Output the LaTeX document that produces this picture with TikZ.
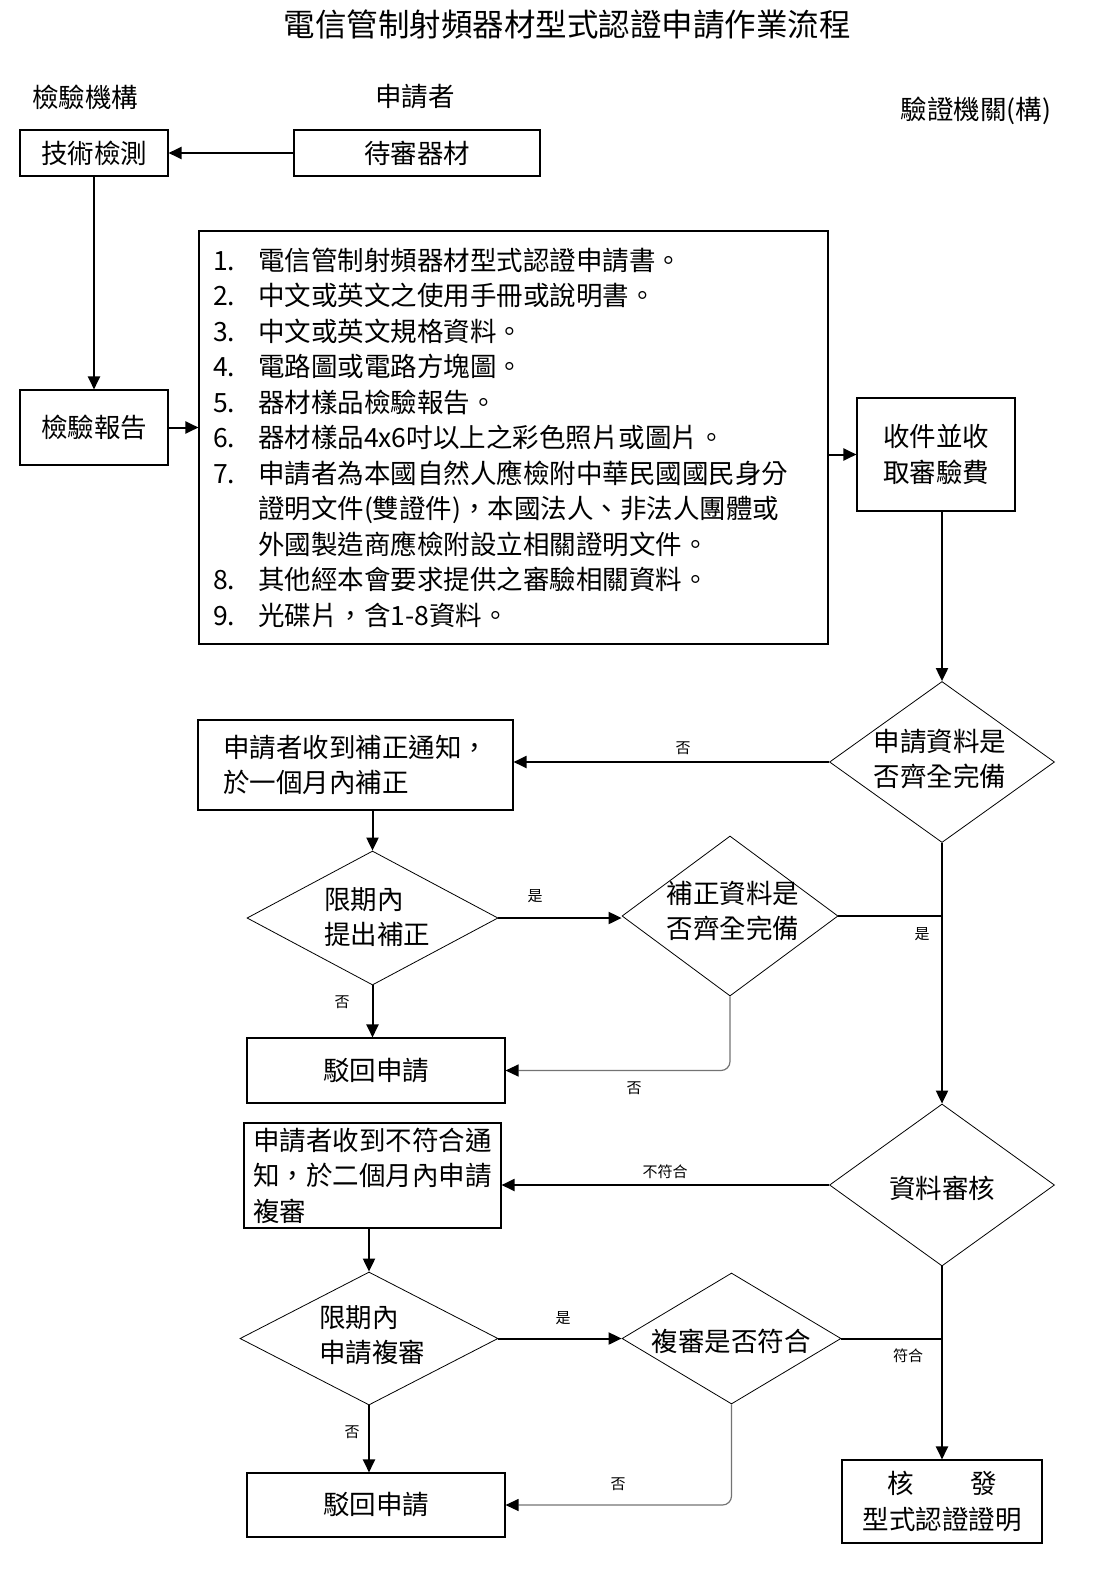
\documentclass[tikz,border=0pt]{standalone}
\usepackage{fontspec}
\setmainfont{Noto Sans CJK TC}
\usetikzlibrary{shapes.geometric,arrows.meta}

\begin{document}
\begin{tikzpicture}[x=1pt,y=-1pt,
  box/.style={draw,line width=1.1pt,inner sep=0pt,align=center,font=\fontsize{26.5pt}{35.5pt}\selectfont},
  decision/.style={diamond,draw,line width=0.8pt,inner sep=0pt},
  txt/.style={inner sep=0pt,align=left,font=\fontsize{26.5pt}{35.5pt}\selectfont},
  lbl/.style={inner sep=0pt,font=\fontsize{15pt}{15pt}\selectfont},
  flow/.style={line width=2pt,-{Triangle[length=13pt,width=12pt]}},
  merge/.style={line width=2pt},
  back/.style={line width=1.2pt,draw=black!55,rounded corners=9pt,-{Triangle[length=13pt,width=12pt,color=black]}}]
  \useasboundingbox (0,0) rectangle (1118,1573);

  \node (0) [txt,font=\fontsize{31.5pt}{36pt}\selectfont] at (567,25) {電信管制射頻器材型式認證申請作業流程};
  \node (1) [txt] at (85,97) {檢驗機構};
  \node (2) [txt] at (415,97) {申請者};
  \node (3) [txt] at (976,111) {驗證機關(構)};

  \node (4) [box,minimum width=148pt,minimum height=46pt] at (94,153) {技術檢測};
  \node (5) [box,minimum width=246pt,minimum height=46pt] at (417,153) {待審器材};
  \node (6) [box,minimum width=148pt,minimum height=75pt] at (94,427.5) {檢驗報告};
  \node (7) [box,align=left,minimum width=629pt,minimum height=413pt,text width=601pt,inner xsep=14pt] at (513.5,437.5) {%
    \makebox[45pt][l]{1.}電信管制射頻器材型式認證申請書。\\
    \makebox[45pt][l]{2.}中文或英文之使用手冊或說明書。\\
    \makebox[45pt][l]{3.}中文或英文規格資料。\\
    \makebox[45pt][l]{4.}電路圖或電路方塊圖。\\
    \makebox[45pt][l]{5.}器材樣品檢驗報告。\\
    \makebox[45pt][l]{6.}器材樣品4x6吋以上之彩色照片或圖片。\\
    \makebox[45pt][l]{7.}申請者為本國自然人應檢附中華民國國民身分\\
    \makebox[45pt][l]{}證明文件(雙證件)，本國法人、非法人團體或\\
    \makebox[45pt][l]{}外國製造商應檢附設立相關證明文件。\\
    \makebox[45pt][l]{8.}其他經本會要求提供之審驗相關資料。\\
    \makebox[45pt][l]{9.}光碟片，含1-8資料。};
  \node (8) [box,minimum width=158pt,minimum height=113pt] at (936,454.5) {收件並收\\取審驗費};

  \node (9) [decision,minimum width=225pt,minimum height=161pt] at (942,762) {};
  \node (9a) [txt] at (940,759) {申請資料是\\否齊全完備};
  \node (10) [box,align=left,minimum width=315pt,minimum height=90pt] at (355.5,765) {申請者收到補正通知，\\於一個月內補正};
  \node (11) [decision,minimum width=251pt,minimum height=134pt] at (372.5,918) {};
  \node (11a) [txt] at (377,917) {限期內\\提出補正};
  \node (12) [decision,minimum width=216pt,minimum height=160pt] at (730,916) {};
  \node (12a) [txt] at (733,911) {補正資料是\\否齊全完備};
  \node (13) [box,minimum width=258pt,minimum height=65pt] at (376,1070.5) {駁回申請};

  \node (14) [box,align=left,minimum width=257pt,minimum height=105pt] at (372.5,1175.5) {申請者收到不符合通\\知，於二個月內申請\\複審};
  \node (15) [decision,minimum width=225pt,minimum height=162pt] at (942,1185) {};
  \node (15a) [txt] at (942,1188) {資料審核};
  \node (16) [decision,minimum width=258pt,minimum height=133pt] at (369,1338.5) {};
  \node (16a) [txt] at (372,1335) {限期內\\申請複審};
  \node (17) [decision,minimum width=219pt,minimum height=131pt] at (731.5,1338.5) {};
  \node (17a) [txt] at (731,1341) {複審是否符合};
  \node (18) [box,minimum width=258pt,minimum height=64pt] at (376,1505) {駁回申請};
  \node (19) [box,minimum width=200pt,minimum height=83pt] at (942,1501.5) {核\hspace{56pt}發\\型式認證證明};

  \node (20) [lbl] at (683,748) {否};
  \node (21) [lbl] at (535,896) {是};
  \node (22) [lbl] at (922,934) {是};
  \node (23) [lbl] at (342,1002) {否};
  \node (24) [lbl] at (634,1088) {否};
  \node (25) [lbl] at (665,1172) {不符合};
  \node (26) [lbl] at (563,1318) {是};
  \node (27) [lbl] at (908,1356) {符合};
  \node (28) [lbl] at (352,1432) {否};
  \node (29) [lbl] at (618,1484) {否};

  \draw[flow] (5) -- (4);
  \draw[flow] (4) -- (6);
  \draw[flow] (6.east) -- (6.east -| 7.west);
  \draw[flow] (8.west -| 7.east) -- (8.west);
  \draw[flow] (9.north |- 8.south) -- (9.north);
  \draw[flow] (9.west) -- (9.west -| 10.east);
  \draw[flow] (11.north |- 10.south) -- (11.north);
  \draw[flow] (11.east) -- (11.east -| 12.west);
  \draw[merge] (12.east) -- (12.east -| 9.south);
  \draw[flow] (9.south) -- (15.north);
  \draw[flow] (11.south) -- (11.south |- 13.north);
  \draw[back] (12.south) |- (13.east);
  \draw[flow] (15.west) -- (15.west -| 14.east);
  \draw[flow] (16.north |- 14.south) -- (16.north);
  \draw[flow] (16.east) -- (16.east -| 17.west);
  \draw[merge] (17.east) -- (17.east -| 15.south);
  \draw[flow] (15.south) -- (19.north);
  \draw[flow] (16.south) -- (16.south |- 18.north);
  \draw[back] (17.south) |- (18.east);
\end{tikzpicture}
\end{document}
